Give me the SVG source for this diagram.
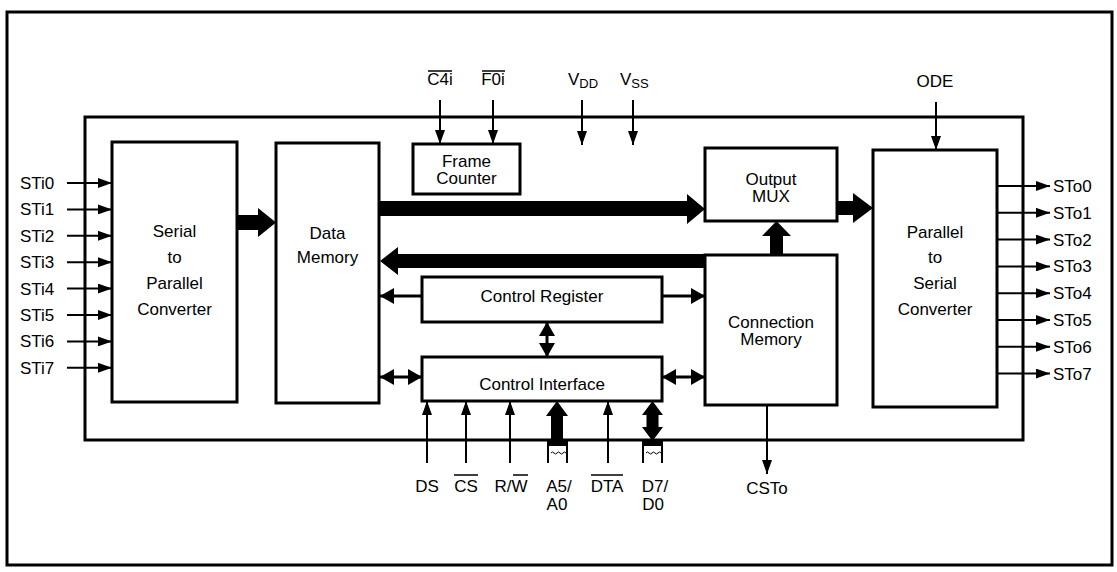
<svg xmlns="http://www.w3.org/2000/svg" width="1117" height="572" viewBox="0 0 1117 572">
<defs>
<style>
.box{fill:#fff;stroke:#000;stroke-width:3}
.frame{fill:none;stroke:#000;stroke-width:3}
.t{font-family:"Liberation Sans",Arial,Helvetica,sans-serif;font-size:17px;fill:#000}
.c{text-anchor:middle}
.w{stroke:#000;stroke-width:2;fill:none}
.m{stroke:#000;stroke-width:3;fill:none}
.ol{stroke:#000;stroke-width:1.5}
.bus{fill:#000;stroke:none}
</style>
<marker id="a" markerUnits="userSpaceOnUse" markerWidth="14" markerHeight="10" refX="14" refY="5" orient="auto-start-reverse"><path d="M0,0 L14,5 L0,10 z" fill="#000"/></marker>
<marker id="b" markerUnits="userSpaceOnUse" markerWidth="14" markerHeight="16" refX="14" refY="8" orient="auto-start-reverse"><path d="M0,0 L14,8 L0,16 z" fill="#000"/></marker>
</defs>
<rect width="1117" height="572" fill="#fff"/>
<rect class="frame" x="7" y="12" width="1105" height="553"/>
<rect class="frame" x="85" y="117" width="938" height="323"/>

<g id="sp">
<rect class="box" x="112" y="142" width="125" height="260"/>
<text class="t c" x="174.5" y="237">Serial</text>
<text class="t c" x="174.5" y="263">to</text>
<text class="t c" x="174.5" y="289">Parallel</text>
<text class="t c" x="174.5" y="315">Converter</text>
</g>
<g id="dm">
<rect class="box" x="276" y="143" width="103" height="260"/>
<text class="t c" x="327.5" y="239">Data</text>
<text class="t c" x="327.5" y="263">Memory</text>
</g>
<g id="fc">
<rect class="box" x="413" y="144" width="107" height="50"/>
<text class="t c" x="466.5" y="167">Frame</text>
<text class="t c" x="466.5" y="184">Counter</text>
</g>
<g id="om">
<rect class="box" x="705" y="148" width="132" height="73"/>
<text class="t c" x="771" y="185">Output</text>
<text class="t c" x="771" y="202">MUX</text>
</g>
<g id="ps">
<rect class="box" x="873" y="150" width="124" height="257"/>
<text class="t c" x="935" y="238">Parallel</text>
<text class="t c" x="935" y="263">to</text>
<text class="t c" x="935" y="289">Serial</text>
<text class="t c" x="935" y="315">Converter</text>
</g>
<g id="cm">
<rect class="box" x="705" y="255" width="132" height="150"/>
<text class="t c" x="771" y="328">Connection</text>
<text class="t c" x="771" y="345">Memory</text>
</g>
<g id="cr">
<rect class="box" x="422" y="277" width="240" height="45"/>
<text class="t c" x="542" y="302">Control Register</text>
</g>
<g id="ci">
<rect class="box" x="422" y="357" width="240" height="44"/>
<text class="t c" x="542" y="390">Control Interface</text>
</g>

<g id="connectors">
<polygon class="bus" points="237,215 258,215 258,208 276,222.5 258,237 258,230 237,230"/>
<polygon class="bus" points="379,201 687,201 687,194 705,209 687,224 687,216 379,216"/>
<polygon class="bus" points="705,254 398,254 398,247 380,261 398,275 398,268 705,268"/>
<polygon class="bus" points="770,255 770,236 762,236 776.5,221 791,236 783,236 783,255"/>
<polygon class="bus" points="837,201 853,201 853,193 873,208 853,223 853,215 837,215"/>
<line class="m" x1="422" y1="296" x2="380" y2="296" marker-end="url(#b)"/>
<line class="m" x1="662" y1="296" x2="705" y2="296" marker-end="url(#b)"/>
<line class="m" x1="380" y1="377" x2="422" y2="377" marker-start="url(#b)" marker-end="url(#b)"/>
<line class="m" x1="662" y1="377" x2="705" y2="377" marker-start="url(#b)" marker-end="url(#b)"/>
<line class="m" x1="547" y1="322" x2="547" y2="357" marker-start="url(#b)" marker-end="url(#b)"/>
<g class="w">
<line x1="67" y1="183" x2="112" y2="183" marker-end="url(#a)"/>
<line x1="67" y1="209.4" x2="112" y2="209.4" marker-end="url(#a)"/>
<line x1="67" y1="235.8" x2="112" y2="235.8" marker-end="url(#a)"/>
<line x1="67" y1="262.2" x2="112" y2="262.2" marker-end="url(#a)"/>
<line x1="67" y1="288.6" x2="112" y2="288.6" marker-end="url(#a)"/>
<line x1="67" y1="315" x2="112" y2="315" marker-end="url(#a)"/>
<line x1="67" y1="341.4" x2="112" y2="341.4" marker-end="url(#a)"/>
<line x1="67" y1="367.8" x2="112" y2="367.8" marker-end="url(#a)"/>
<line x1="997" y1="186" x2="1050" y2="186" marker-end="url(#a)"/>
<line x1="997" y1="212.8" x2="1050" y2="212.8" marker-end="url(#a)"/>
<line x1="997" y1="239.6" x2="1050" y2="239.6" marker-end="url(#a)"/>
<line x1="997" y1="266.4" x2="1050" y2="266.4" marker-end="url(#a)"/>
<line x1="997" y1="293.2" x2="1050" y2="293.2" marker-end="url(#a)"/>
<line x1="997" y1="320" x2="1050" y2="320" marker-end="url(#a)"/>
<line x1="997" y1="346.8" x2="1050" y2="346.8" marker-end="url(#a)"/>
<line x1="997" y1="373.6" x2="1050" y2="373.6" marker-end="url(#a)"/>
<line x1="440" y1="100" x2="440" y2="144" marker-end="url(#a)"/>
<line x1="493" y1="100" x2="493" y2="144" marker-end="url(#a)"/>
<line x1="582" y1="100" x2="582" y2="145" marker-end="url(#a)"/>
<line x1="633" y1="100" x2="633" y2="145" marker-end="url(#a)"/>
<line x1="936" y1="102" x2="936" y2="150" marker-end="url(#a)"/>
<line x1="427" y1="463" x2="427" y2="401" marker-end="url(#a)"/>
<line x1="466" y1="463" x2="466" y2="401" marker-end="url(#a)"/>
<line x1="510" y1="463" x2="510" y2="401" marker-end="url(#a)"/>
<line x1="608" y1="463" x2="608" y2="401" marker-end="url(#a)"/>
<line x1="767" y1="405" x2="767" y2="474" marker-end="url(#a)"/>
<line x1="548" y1="443" x2="548" y2="463"/>
<line x1="567" y1="443" x2="567" y2="463"/>
<line x1="643" y1="443" x2="643" y2="463"/>
<line x1="662" y1="443" x2="662" y2="463"/>
<path stroke-width="1" d="M551,453 q1.5,-2 3,0 t3,0 t3,0 t3,0 t3,0"/>
<path stroke-width="1" d="M646,453 q1.5,-2 3,0 t3,0 t3,0 t3,0 t3,0"/>
</g>
<rect class="bus" x="547" y="441" width="21" height="5"/>
<rect class="bus" x="642" y="441" width="21" height="5"/>
<polygon class="bus" points="551,443 551,416 546,416 557,401 568,416 563,416 563,443"/>
<polygon class="bus" points="652.5,401 663,415 658.5,415 658.5,427 663,427 652.5,441 642,427 646.5,427 646.5,415 642,415"/>
</g>

<g id="labels">
<text class="t" x="20" y="189">STi0</text>
<text class="t" x="20" y="215.4">STi1</text>
<text class="t" x="20" y="241.8">STi2</text>
<text class="t" x="20" y="268.2">STi3</text>
<text class="t" x="20" y="294.6">STi4</text>
<text class="t" x="20" y="321">STi5</text>
<text class="t" x="20" y="347.4">STi6</text>
<text class="t" x="20" y="373.8">STi7</text>
<text class="t" x="1053" y="192">STo0</text>
<text class="t" x="1053" y="218.8">STo1</text>
<text class="t" x="1053" y="245.6">STo2</text>
<text class="t" x="1053" y="272.4">STo3</text>
<text class="t" x="1053" y="299.2">STo4</text>
<text class="t" x="1053" y="326">STo5</text>
<text class="t" x="1053" y="352.8">STo6</text>
<text class="t" x="1053" y="379.6">STo7</text>
<text class="t c" x="440" y="85">C4i</text>
<line class="ol" x1="428" y1="71" x2="452" y2="71"/>
<text class="t c" x="493" y="85">F0i</text>
<line class="ol" x1="482" y1="71" x2="505" y2="71"/>
<text class="t" x="568" y="85">V<tspan font-size="13" dy="3">DD</tspan></text>
<text class="t" x="620" y="85">V<tspan font-size="13" dy="3">SS</tspan></text>
<text class="t c" x="935" y="87">ODE</text>
<text class="t c" x="427" y="492">DS</text>
<text class="t c" x="466" y="492">CS</text>
<line class="ol" x1="454" y1="475" x2="478" y2="475"/>
<text class="t c" x="511" y="492">R/W</text>
<line class="ol" x1="513" y1="475" x2="528" y2="475"/>
<text class="t c" x="559" y="492">A5/</text>
<text class="t c" x="557" y="510">A0</text>
<text class="t c" x="607" y="492">DTA</text>
<line class="ol" x1="591" y1="475" x2="623" y2="475"/>
<text class="t c" x="655" y="492">D7/</text>
<text class="t c" x="653" y="510">D0</text>
<text class="t c" x="767" y="494">CSTo</text>
</g>
</svg>
